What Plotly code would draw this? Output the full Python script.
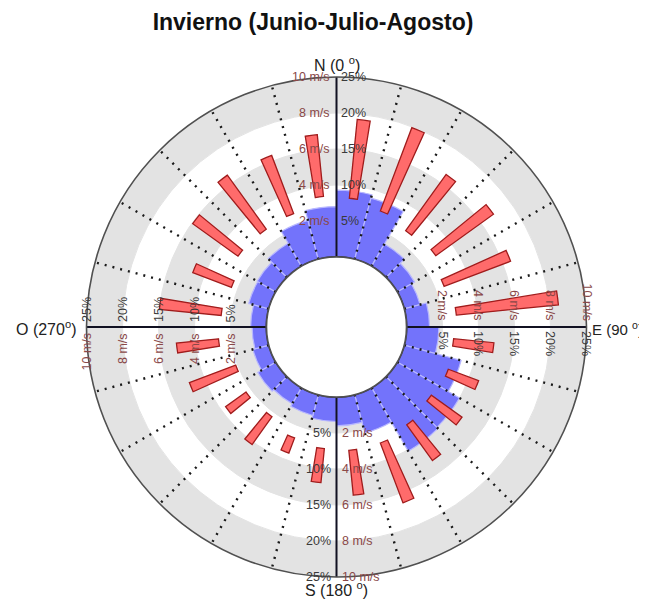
import plotly.graph_objects as go

# ---------------- data ----------------
directions = [7.5, 22.5, 37.5, 52.5, 67.5, 82.5, 97.5, 112.5, 127.5, 142.5, 157.5, 172.5,
              187.5, 202.5, 217.5, 232.5, 247.5, 262.5, 277.5, 292.5, 307.5, 322.5, 337.5, 352.5]
# frequency of winds by direction sector (%)
freq_pct = [9.3, 8.8, 3.6, 2.8, 2.3, 3.2, 4.5, 8.2, 10.0, 10.2, 5.5, 4.0,
            3.4, 3.0, 2.6, 2.9, 2.3, 2.0, 2.2, 2.9, 3.0, 3.7, 5.6, 7.0]
# wind speed range by direction sector (m/s)
speed_low = [3.3, 3.0, 2.7, 2.9, 2.5, 2.8, 2.65, 2.75, 2.6, 2.8, 3.0, 3.0,
             2.9, 2.7, 2.25, 2.3, 2.1, 2.7, 2.55, 2.35, 2.85, 2.8, 2.85, 3.4]
speed_high = [7.7, 7.95, 6.55, 6.85, 6.45, 8.5, 4.9, 4.55, 4.7, 5.25, 6.55, 5.5,
              4.8, 3.6, 4.15, 3.7, 4.85, 5.05, 6.0, 4.65, 5.95, 6.5, 6.3, 6.85]

pct_ticks = [5, 10, 15, 20, 25]
speed_ticks = [2, 4, 6, 8, 10]
pct_labels = ["5%", "10%", "15%", "20%", "25%"]
speed_labels = ["2 m/s", "4 m/s", "6 m/s", "8 m/s", "10 m/s"]
band_ranges = [(0, 5), (10, 15), (20, 25)]
spoke_angles = [15, 30, 45, 60, 75, 105, 120, 135, 150, 165, 195, 210, 225, 240, 255,
                285, 300, 315, 330, 345]
axis_angles = [0, 90, 180, 270]
title_text = "Invierno (Junio-Julio-Agosto)"
dir_labels = {"N": "N (0 <sup>o</sup>)", "E": "E (90 <sup>o</sup>)",
              "S": "S (180 <sup>o</sup>)", "O": "O (270<sup>o</sup>)"}

# ---------------- geometry / styles ----------------
PAGE_OFF = 8            # default body margin of the html page
W, H = 660, 603 - PAGE_OFF
CX, CY = 336.5 - PAGE_OFF, 327.0 - PAGE_OFF
R = 250.0
HOLE = 0.28
RMAX = 25.0
SPEED_TO_PCT = 2.5  # 10 m/s <-> 25 %

GRAY = "#e3e3e3"
BLUE = "#7373fb"
RED_FILL = "#ff6b6b"
RED_LINE = "#a01c1c"
MS_COLOR = "#8a4848"
PCT_COLOR = "#3a3a3a"
FONT = "Liberation Sans, Arial, sans-serif"

fig = go.Figure()

# gray alternating bands
for lo, hi in band_ranges:
    fig.add_trace(go.Barpolar(
        theta=[45, 135, 225, 315], r=[hi - lo] * 4, base=[lo] * 4, width=[90] * 4,
        marker=dict(color=GRAY, line=dict(color=GRAY, width=1)),
        hoverinfo="skip", showlegend=False))

# dotted spokes every 15 degrees
sr, st = [], []
for a in spoke_angles:
    sr += [0, RMAX, None]
    st += [a, a, None]
fig.add_trace(go.Scatterpolar(
    r=sr, theta=st, mode="lines",
    line=dict(color="#1a1a1a", width=2.4, dash="2px,6px"),
    hoverinfo="skip", showlegend=False))

# blue frequency wedges
fig.add_trace(go.Barpolar(
    theta=directions, r=freq_pct, base=[0] * len(directions), width=[15] * len(directions),
    marker=dict(color=BLUE, line=dict(color="#b8b8ff", width=1.2)),
    name="Frecuencia (%)", showlegend=False))

# solid N/E/S/W axis lines
ar, at = [], []
for a in axis_angles:
    ar += [0, RMAX, None]
    at += [a, a, None]
fig.add_trace(go.Scatterpolar(
    r=ar, theta=at, mode="lines", line=dict(color="#111122", width=2),
    hoverinfo="skip", showlegend=False))

# red wind-speed bars
fig.add_trace(go.Barpolar(
    theta=directions,
    base=[v * SPEED_TO_PCT for v in speed_low],
    r=[(h - l) * SPEED_TO_PCT for l, h in zip(speed_low, speed_high)],
    width=[3.6] * len(directions),
    marker=dict(color=RED_FILL, line=dict(color=RED_LINE, width=1.3)),
    name="Velocidad (m/s)", showlegend=False))

# inner hole border
circ_t = list(range(0, 361, 2))
fig.add_trace(go.Scatterpolar(
    r=[0] * len(circ_t), theta=circ_t, mode="lines",
    line=dict(color="#3c3c58", width=2.2), hoverinfo="skip", showlegend=False))


def rpx(p):
    return R * (HOLE + (1 - HOLE) * p / RMAX)


def px(x):
    return x / W


def py(y):
    return 1 - y / H


ann = []
small = dict(family=FONT, size=12.5)
for p, s, pl, sl in zip(pct_ticks, speed_ticks, pct_labels, speed_labels):
    rp = rpx(p)
    # North
    ann.append(dict(x=px(CX - 5), y=py(CY - rp), text=sl, xanchor="right", yanchor="middle",
                    font=dict(small, color=MS_COLOR)))
    ann.append(dict(x=px(CX + 2), y=py(CY - rp), text=pl, xanchor="left", yanchor="middle",
                    font=dict(small, color=PCT_COLOR)))
    # South
    ann.append(dict(x=px(CX - 4), y=py(CY + rp), text=pl, xanchor="right", yanchor="middle",
                    font=dict(small, color=PCT_COLOR)))
    ann.append(dict(x=px(CX + 3), y=py(CY + rp), text=sl, xanchor="left", yanchor="middle",
                    font=dict(small, color=MS_COLOR)))
    # East (rotated)
    ann.append(dict(x=px(CX + rp), y=py(CY - 4), text=sl, xanchor="center", yanchor="bottom",
                    textangle=90, font=dict(small, color=MS_COLOR)))
    ann.append(dict(x=px(CX + rp), y=py(CY + 2), text=pl, xanchor="center", yanchor="top",
                    textangle=90, font=dict(small, color=PCT_COLOR)))
    # West (rotated)
    ann.append(dict(x=px(CX - rp), y=py(CY - 3), text=pl, xanchor="center", yanchor="bottom",
                    textangle=-90, font=dict(small, color=PCT_COLOR)))
    ann.append(dict(x=px(CX - rp), y=py(CY + 4), text=sl, xanchor="center", yanchor="top",
                    textangle=-90, font=dict(small, color=MS_COLOR)))

dfont = dict(family=FONT, size=16, color="#222222")
efont = dict(family=FONT, size=15, color="#222222")
ann.append(dict(x=px(CX), y=py(CY - R - 1), text=dir_labels["N"], xanchor="center", yanchor="bottom", font=dfont))
ann.append(dict(x=px(CX), y=py(CY + R), text=dir_labels["S"], xanchor="center", yanchor="top", font=dfont))
ann.append(dict(x=px(CX + R + 3), y=py(CY + 1), text=dir_labels["E"], xanchor="left", yanchor="middle", font=efont))
ann.append(dict(x=px(CX - R - 9), y=py(CY + 1), text=dir_labels["O"], xanchor="right", yanchor="middle", font=dfont))
for a in ann:
    a.update(xref="paper", yref="paper", showarrow=False)

fig.update_layout(
    width=W, height=H, autosize=False,
    margin=dict(l=0, r=0, t=0, b=0),
    paper_bgcolor="white", plot_bgcolor="white",
    title=dict(text="<b>" + title_text + "</b>", x=px(313 - PAGE_OFF), y=py(22 - PAGE_OFF),
               xanchor="center", yanchor="middle",
               font=dict(family=FONT, size=23, color="#111111")),
    polar=dict(
        domain=dict(x=[px(CX - R), px(CX + R)], y=[py(CY + R), py(CY - R)]),
        hole=HOLE, bgcolor="white", barmode="overlay",
        radialaxis=dict(range=[0, RMAX], visible=False),
        angularaxis=dict(direction="clockwise", rotation=90, showticklabels=False, ticks="",
                         showgrid=False, showline=True, linecolor="#505050", linewidth=1.6),
    ),
    annotations=ann,
    showlegend=False,
)

fig.write_html("out.html")
